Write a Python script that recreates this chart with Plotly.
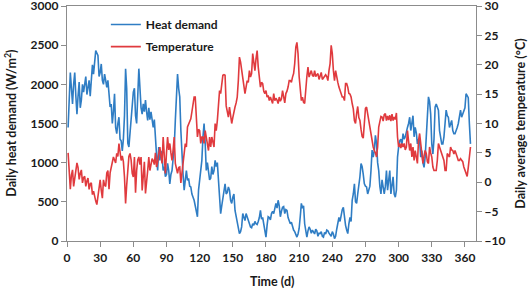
import plotly.graph_objects as go

days = list(range(1, 366))

heat_demand = [
    1450, 1800, 2150, 1950, 1750, 2000, 2150, 1850, 1620, 1850,
    2030, 1700, 1800, 2000, 1900, 2000, 2100, 1870, 1980, 2050,
    1850, 2150, 2250, 2130, 2300, 2430, 2400, 2370, 2100, 2150,
    2260, 2050, 2000, 2130, 2050, 1960, 2050, 1800, 1710, 1750,
    1500, 1650, 1880, 1450, 1370, 1500, 1580, 1300, 1280, 1150,
    1300, 1600, 2200, 1950, 1250, 1200, 1400, 1550, 1750, 1900,
    1950, 1600, 1500, 1800, 2200, 1950, 1700, 1620, 1750, 1650,
    1800, 1650, 1540, 1700, 1550, 1650, 1500, 1450, 1550, 1250,
    1100, 900, 1200, 1030, 1150, 1080, 900, 950, 820, 850,
    990, 900, 730, 850, 900, 1050, 1200, 1540, 1900, 2130,
    1950, 1840, 1410, 990, 850, 650, 780, 900, 775, 800,
    700, 690, 600, 560, 520, 450, 390, 310, 650, 780,
    900, 1030, 1330, 1500, 1250, 900, 1000, 850, 780, 800,
    950, 850, 900, 1030, 950, 1000, 750, 520, 350, 450,
    560, 620, 730, 600, 620, 690, 650, 520, 480, 560,
    600, 390, 310, 200, 140, 95, 120, 180, 350, 300,
    260, 350, 300, 250, 220, 180, 170, 220, 200, 250,
    220, 210, 250, 300, 390, 280, 300, 220, 150, 50,
    200, 310, 300, 270, 350, 380, 350, 400, 480, 420,
    520, 450, 310, 380, 430, 440, 350, 400, 390, 300,
    250, 220, 240, 180, 140, 120, 80, 50, 90, 160,
    310, 480, 420, 450, 220, 100, 50, 130, 180, 150,
    100, 140, 110, 90, 150, 130, 60, 100, 95, 120,
    60, 50, 110, 90, 140, 130, 100, 80, 60, 120,
    90, 30, 60, 150, 230, 300, 250, 350, 400, 430,
    300, 200, 140, 95, 220, 300, 250, 520, 600, 730,
    500, 480, 600, 700, 820, 990, 950, 850, 730, 700,
    690, 600, 650, 700, 900, 1160, 1070, 1150, 1350, 1250,
    1000, 900, 700, 600, 780, 650, 600, 700, 900, 650,
    820, 900, 600, 700, 820, 600, 560, 650, 1070, 1200,
    1280, 1300, 1230, 1370, 1300, 1330, 1410, 1450, 1500, 1580,
    1410, 1540, 1600, 1330, 1450, 1380, 1240, 1300, 1280, 1070,
    1155, 1000, 940, 1070, 1300, 1540, 1840, 1780, 1620, 1240,
    1110, 1300, 1710, 1750, 1700, 1670, 1410, 1300, 1240, 1240,
    1330, 1500, 1670, 1600, 1580, 1450, 1500, 1540, 1410, 1370,
    1370, 1400, 1450, 1500, 1600, 1670, 1580, 1620, 1650, 1700,
    1880, 1850, 1830, 1500, 1240,
]

temperature = [
    5.0, 1.5, -1.2, 1.2, 2.1, -0.7, 1.0, 2.7, 3.3, 2.5,
    0.5, 1.5, 2.1, -0.1, 0.8, 1.0, -0.7, 0.2, 0.7, -1.2,
    -0.3, -0.1, -2.1, -1.5, -2.5, -3.2, -3.8, -2.5, -1.2, 0.4,
    -1.4, -2.7, 0.4, -0.5, -0.7, 1.6, 2.0, -1.2, 1.6, 2.6,
    3.3, 4.3, 3.8, 3.3, 4.9, 4.4, 6.6, 5.5, 3.7, 4.5,
    3.5, 0.9, -3.6, -0.5, 2.0, 4.4, 4.9, 3.8, 1.5, 0.9,
    4.3, -1.8, 2.0, 3.8, 4.3, 3.0, 4.3, -1.4, 1.0, 3.5,
    -1.9, 1.0, 2.0, 4.3, 2.0, 3.0, 4.0, 3.7, 3.0, 5.0,
    2.6, 3.5, 5.4, 6.0, 4.5, 3.2, 7.7, 5.0, 1.5, 5.0,
    7.7, 5.5, 6.6, 5.0, 3.7, 5.5, 7.7, 3.2, 2.0, 1.5,
    2.5, 2.6, -0.1, 2.0, 3.8, 4.9, 6.6, 6.0, 9.4, 10.0,
    10.5, 10.8, 12.0, 13.4, 14.5, 14.5, 11.1, 7.7, 9.0, 8.8,
    6.6, 7.7, 7.7, 6.6, 8.8, 7.5, 6.0, 5.4, 7.7, 6.0,
    7.7, 6.5, 6.0, 10.0, 8.8, 10.5, 13.4, 15.6, 15.1, 16.5,
    18.2, 18.3, 18.2, 13.0, 11.7, 11.1, 12.8, 11.5, 10.0, 11.0,
    12.2, 12.8, 13.5, 14.5, 17.3, 21.3, 20.5, 19.0, 17.3, 16.5,
    15.1, 16.2, 17.3, 17.0, 19.0, 17.9, 18.5, 21.9, 20.0, 19.0,
    21.0, 22.4, 19.6, 17.9, 16.2, 17.0, 16.8, 15.5, 15.1, 15.6,
    14.5, 14.8, 13.9, 14.5, 14.0, 13.4, 15.1, 13.9, 14.3, 14.0,
    13.4, 14.5, 13.8, 14.2, 15.6, 14.0, 13.5, 15.1, 15.5, 16.2,
    17.3, 17.3, 17.0, 17.9, 18.5, 20.2, 23.0, 23.8, 21.9, 18.0,
    15.6, 13.9, 14.5, 13.6, 13.4, 16.8, 18.0, 19.6, 17.9, 18.5,
    19.0, 18.2, 18.0, 19.0, 18.0, 18.3, 18.5, 17.5, 18.2, 18.7,
    17.5, 17.8, 17.9, 18.3, 18.0, 17.3, 19.0, 20.2, 23.3, 21.9,
    19.0, 17.3, 19.0, 17.6, 17.0, 16.2, 15.5, 15.1, 14.5, 14.5,
    13.9, 16.8, 16.8, 16.2, 15.1, 15.0, 14.5, 13.4, 12.5, 10.5,
    10.0, 11.7, 12.9, 11.0, 10.5, 9.0, 7.8, 7.5, 10.5, 12.6,
    12.8, 11.7, 10.0, 8.9, 7.7, 6.7, 6.0, 5.4, 5.0, 4.3,
    6.0, 9.4, 10.5, 11.2, 11.1, 10.4, 11.5, 11.7, 10.5, 11.3,
    10.6, 11.4, 10.4, 11.6, 10.5, 11.1, 10.7, 11.8, 7.7, 6.0,
    6.6, 5.8, 6.6, 6.0, 6.6, 5.5, 6.0, 8.8, 7.0, 5.4,
    6.6, 4.3, 6.0, 3.7, 5.4, 4.2, 3.2, 7.1, 8.3, 6.6,
    5.0, 3.2, 4.5, 5.4, 4.9, 3.5, 3.2, 6.0, 5.0, 4.3,
    2.6, 2.0, 2.0, 2.0, 3.7, 6.6, 6.0, 5.4, 4.9, 4.2,
    3.7, 2.0, 2.0, 4.9, 4.5, 4.3, 6.0, 5.5, 5.4, 4.8,
    5.4, 5.0, 4.3, 3.7, 3.7, 4.0, 3.7, 3.5, 2.6, 2.0,
    1.5, 1.0, 2.5, 4.5, 6.0,
]

x_ticks = [0, 30, 60, 90, 120, 150, 180, 210, 240, 270, 300, 330, 360]
heat_ticks = [0, 500, 1000, 1500, 2000, 2500, 3000]
temp_ticks = [-10, -5, 0, 5, 10, 15, 20, 25, 30]

BLUE = "#2F7DC4"
RED = "#E03A3E"
AX = "#8C8C8C"
FONT = dict(family="Lato, Liberation Sans, sans-serif", size=12, color="#1a1a1a", weight="bold")
TFONT = dict(family="Lato, Liberation Sans, sans-serif", size=12.5, color="#1a1a1a", weight="bold")

fig = go.Figure()
fig.add_trace(go.Scatter(x=days, y=heat_demand, mode="lines", name="Heat demand",
                         line=dict(color=BLUE, width=1.6), yaxis="y", legend="legend"))
fig.add_trace(go.Scatter(x=days, y=temperature, mode="lines", name="Temperature",
                         line=dict(color=RED, width=1.6), yaxis="y2", legend="legend2"))

fig.update_layout(
    width=528, height=291,
    margin=dict(l=67, r=52, t=6, b=50, autoexpand=False),
    paper_bgcolor="white", plot_bgcolor="white",
    font=FONT,
    showlegend=True,
    legend=dict(x=0.095, y=0.983, xanchor="left", yanchor="top",
                bgcolor="rgba(0,0,0,0)", font=FONT),
    legend2=dict(x=0.095, y=0.889, xanchor="left", yanchor="top",
                 bgcolor="rgba(0,0,0,0)", font=FONT),
    xaxis=dict(range=[0, 370], tickvals=x_ticks, showgrid=False, zeroline=False,
               showline=True, linecolor=AX, linewidth=1.3, mirror=True,
               ticks="outside", ticklen=5, tickcolor=AX, tickfont=FONT,
               ticklabeloverflow="allow", automargin=False),
    yaxis=dict(range=[0, 3000], tickvals=heat_ticks, showgrid=False, zeroline=False,
               showline=True, linecolor=AX, linewidth=1.3,
               ticks="outside", ticklen=5, tickcolor=AX, tickfont=FONT,
               ticklabeloverflow="allow", automargin=False),
    yaxis2=dict(range=[-10, 30], tickvals=temp_ticks, overlaying="y", side="right",
                showgrid=False, zeroline=False, showline=True, linecolor=AX, linewidth=1.3,
                ticks="outside", ticklen=5, tickcolor=AX, tickfont=FONT,
                ticklabeloverflow="allow", automargin=False),
    annotations=[
        dict(text="Time (d)", xref="paper", yref="paper", x=0.5, y=-0.174,
             xanchor="center", yanchor="middle", showarrow=False, font=TFONT),
        dict(text="Daily heat demand (W/m<sup>2</sup>)", xref="paper", yref="paper",
             x=-0.139, y=0.5, textangle=-90, xanchor="center", yanchor="middle",
             showarrow=False, font=TFONT),
        dict(text="Daily average temperature (°C)", xref="paper", yref="paper",
             x=1.108, y=0.5, textangle=-90, xanchor="center", yanchor="middle",
             showarrow=False, font=TFONT),
    ],
)

fig.write_html("out.html", config={"displayModeBar": False},
               post_script="document.body.style.margin='0';document.body.style.padding='0';")
